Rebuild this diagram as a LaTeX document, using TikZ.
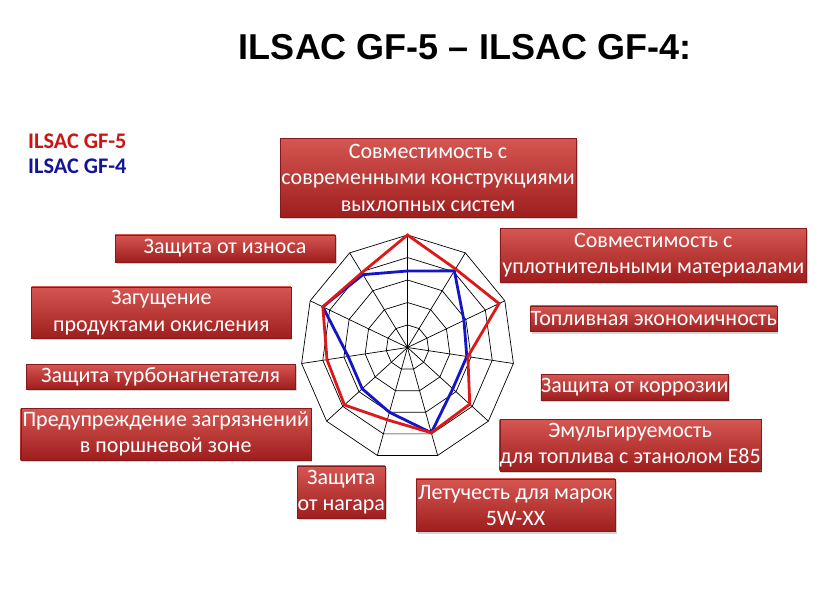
\documentclass[tikz,border=0pt]{standalone}
\usepackage{fontspec}
\setmainfont{Carlito}
\newfontfamily\titlefont{Liberation Sans}
\usetikzlibrary{shadows}
\definecolor{boxtop}{RGB}{214,86,82}
\definecolor{boxmid}{RGB}{196,52,52}
\definecolor{boxbot}{RGB}{158,30,30}
\definecolor{gfred}{RGB}{204,20,20}
\definecolor{gfblue}{RGB}{20,20,150}
\definecolor{linered}{RGB}{222,24,24}
\definecolor{lineblue}{RGB}{20,20,200}
\tikzset{
  rbox/.style={inner sep=0pt, align=center, text=white,
    top color=boxtop, middle color=boxmid, bottom color=boxbot,
    draw=boxbot!85!black, line width=0.4pt,
    font=\fontsize{22}{26.5}\selectfont,
    drop shadow={shadow xshift=1.5pt, shadow yshift=-2pt, opacity=0.35}},
  legend/.style={anchor=base west, inner sep=0pt, font=\fontsize{22.3}{25}\selectfont\bfseries},
  gridline/.style={black, line width=0.7pt},
  series/.style={line width=2.8pt, line join=miter}
}
\begin{document}
\begin{tikzpicture}[x=1pt,y=-1pt]
\useasboundingbox[fill=white] (0,0) rectangle (820,598);

\node[anchor=base, inner sep=0pt, font=\titlefont\fontsize{36}{40}\selectfont\bfseries] (title) at (465,59) {ILSAC GF-5 – ILSAC GF-4:};

\node[legend, text=gfred] (leg5) at (28,148) {ILSAC GF-5};
\node[legend, text=gfblue] (leg4) at (28,173) {ILSAC GF-4};

% radar chart
\begin{scope}[shift={(407.5,347.5)}, x=107pt, y=112.5pt]
  \foreach \k in {0,...,10} \draw[gridline] (0,0) -- ({90-\k*360/11}:1);
  \foreach \r in {0.2,0.4,0.6,0.8,1.0}
    \draw[gridline] (90:\r) \foreach \k in {1,...,10}{ -- ({90-\k*360/11}:\r)} -- cycle;
  \draw[series, lineblue]
    \foreach \v [count=\i from 0] in {0.68,0.81,0.58,0.56,0.56,0.79,0.60,0.56,0.56,0.87,0.77}
      { \ifnum\i=0 ({90-\i*360/11}:\v) \else -- ({90-\i*360/11}:\v) \fi } -- cycle;
  \draw[series, linered]
    \foreach \v [count=\i from 0] in {1.0,0.83,0.94,0.57,0.77,0.79,0.67,0.78,0.76,0.87,0.79}
      { \ifnum\i=0 ({90-\i*360/11}:\v) \else -- ({90-\i*360/11}:\v) \fi } -- cycle;
\end{scope}

% boxes
\node[rbox, minimum width=296pt, minimum height=79pt] (exhaust) at (428,177.8)
  {Совместимость с\\современными конструкциями\\выхлопных систем};
\node[rbox, minimum width=220pt, minimum height=27pt] (wear) at (225,248.3)
  {Защита от износа};
\node[rbox, minimum width=306.7pt, minimum height=53.4pt] (seal) at (653.3,255)
  {Совместимость с\\уплотнительными материалами};
\node[rbox, minimum width=259.3pt, minimum height=51.6pt] (thick) at (161.3,312.5)
  {Загущение\\продуктами окисления};
\node[rbox, minimum width=244.3pt, minimum height=25.7pt] (fuel) at (653.8,318.8)
  {Топливная экономичность};
\node[rbox, minimum width=269pt, minimum height=25pt] (turbo) at (160.5,376.5)
  {Защита турбонагнетателя};
\node[rbox, minimum width=186pt, minimum height=26pt] (corr) at (634.7,387)
  {Защита от коррозии};
\node[rbox, minimum width=290pt, minimum height=52pt] (piston) at (165.7,434)
  {Предупреждение загрязнений\\в поршневой зоне};
\node[rbox, minimum width=258.3pt, minimum height=51.4pt] (emul) at (630.2,445)
  {Эмульгируемость\\для топлива с этанолом E85};
\node[rbox, minimum width=87.3pt, minimum height=52.6pt] (soot) at (341.3,492)
  {Защита\\от нагара};
\node[rbox, minimum width=199pt, minimum height=52.7pt] (vol) at (515.5,505.3)
  {Летучесть для марок\\5W-XX};
\end{tikzpicture}
\end{document}
